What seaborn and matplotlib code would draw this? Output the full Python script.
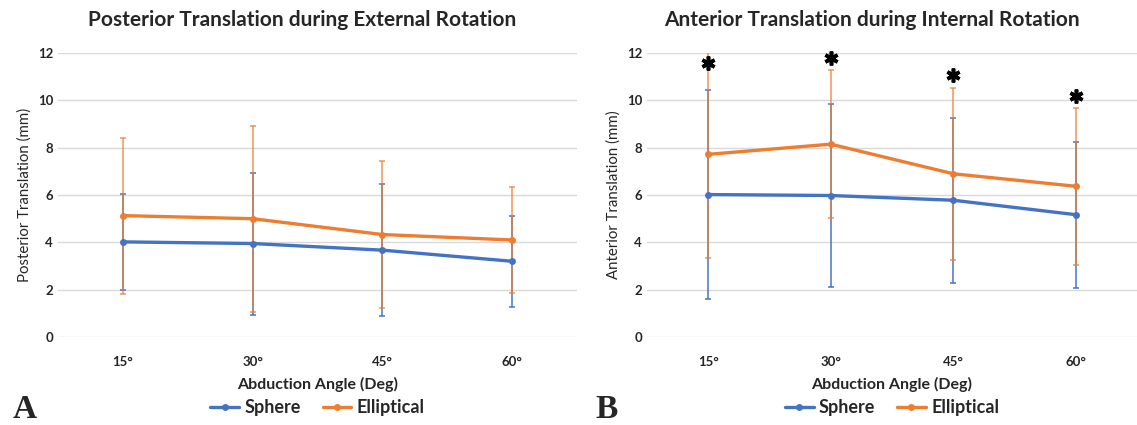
import numpy as np
import pandas as pd
import matplotlib
matplotlib.use('Agg')
import matplotlib.pyplot as plt
import seaborn as sns

# datos
angulos = ['15°', '30°', '45°', '60°']

post_sphere     = [4.02, 3.95, 3.67, 3.20]
post_sphere_sd  = [2.03, 3.00, 2.80, 1.92]
post_ellip      = [5.13, 5.00, 4.33, 4.10]
post_ellip_sd   = [3.30, 3.93, 3.12, 2.22]

ant_sphere      = [6.02, 5.98, 5.78, 5.17]
ant_sphere_sd   = [4.40, 3.88, 3.49, 3.08]
ant_ellip       = [7.72, 8.15, 6.90, 6.37]
ant_ellip_sd    = [4.40, 3.12, 3.63, 3.31]

asterisco_y     = [11.6, 11.8, 11.06, 10.2]

AZUL = '#4472C4'
NARANJA = '#ED7D31'

sns.set_theme(style='white')
plt.rcParams['font.family'] = ['Lato', 'DejaVu Sans']

fig = plt.figure(figsize=(11.37, 4.25), dpi=100, facecolor='white')
ax1 = fig.add_axes([0.051, 0.2071, 0.4565, 0.668])
ax2 = fig.add_axes([0.569, 0.2071, 0.431, 0.668])


def panel(ax, sphere, sphere_sd, ellip, ellip_sd, titulo, ylab, letra, tx, lx):
    df = pd.DataFrame({
        'angulo': angulos * 2,
        'valor': sphere + ellip,
        'serie': ['Sphere'] * 4 + ['Elliptical'] * 4,
    })
    x = np.arange(len(angulos))
    ax.errorbar(x, sphere, yerr=sphere_sd, fmt='none', ecolor=AZUL,
                elinewidth=1.2, capsize=2.5, capthick=1.2, alpha=0.9, zorder=2)
    ax.errorbar(x, ellip, yerr=ellip_sd, fmt='none', ecolor=NARANJA,
                elinewidth=1.2, capsize=2.5, capthick=1.2, alpha=0.75, zorder=2)
    sns.lineplot(data=df, x='angulo', y='valor', hue='serie',
                 palette={'Sphere': AZUL, 'Elliptical': NARANJA},
                 marker='o', markersize=5, markeredgewidth=0, linewidth=2.4,
                 sort=False, ax=ax, zorder=3)
    ax.set_xlim(-0.5, 3.5)
    ax.set_ylim(0, 12)
    ax.set_yticks(range(0, 13, 2))
    ax.grid(axis='y', color='#D9D9D9', linewidth=1)
    ax.grid(axis='x', visible=False)
    for s in ax.spines.values():
        s.set_visible(False)
    ax.tick_params(axis='both', length=0, labelsize=9.5)
    ax.tick_params(axis='x', pad=14)
    for lbl in ax.get_xticklabels() + ax.get_yticklabels():
        lbl.set_fontweight('bold')
    ax.set_xlabel('Abduction Angle (Deg)', fontsize=11.5, fontweight='bold',
                  labelpad=6)
    ax.set_ylabel(ylab, fontsize=10.8, labelpad=4)
    fig.text(tx, 0.953, titulo, ha='center', va='center',
             fontsize=15, fontweight='bold')
    ax.legend(loc='center', bbox_to_anchor=(0.5, -0.25), ncol=2, frameon=False,
              handlelength=1.6, columnspacing=1.2, handletextpad=0.3,
              prop={'weight': 'bold', 'size': 13})
    ax.text(lx, -0.257, letra, transform=ax.transAxes,
            family='Liberation Serif', fontweight='bold', fontsize=24,
            ha='center', va='center')


panel(ax1, post_sphere, post_sphere_sd, post_ellip, post_ellip_sd,
      'Posterior Translation during External Rotation',
      'Posterior Translation (mm)', 'A', 302 / 1137, -0.064)
panel(ax2, ant_sphere, ant_sphere_sd, ant_ellip, ant_ellip_sd,
      'Anterior Translation during Internal Rotation',
      'Anterior Translation (mm)', 'B', 872 / 1137, -0.082)

# asteriscos de significancia
ax2.plot(np.arange(len(angulos)), asterisco_y, linestyle='none',
         marker=(6, 2, 0), markersize=10, markeredgewidth=2.6,
         color='black', clip_on=False, zorder=5)

fig.savefig('out.png', dpi=100)
